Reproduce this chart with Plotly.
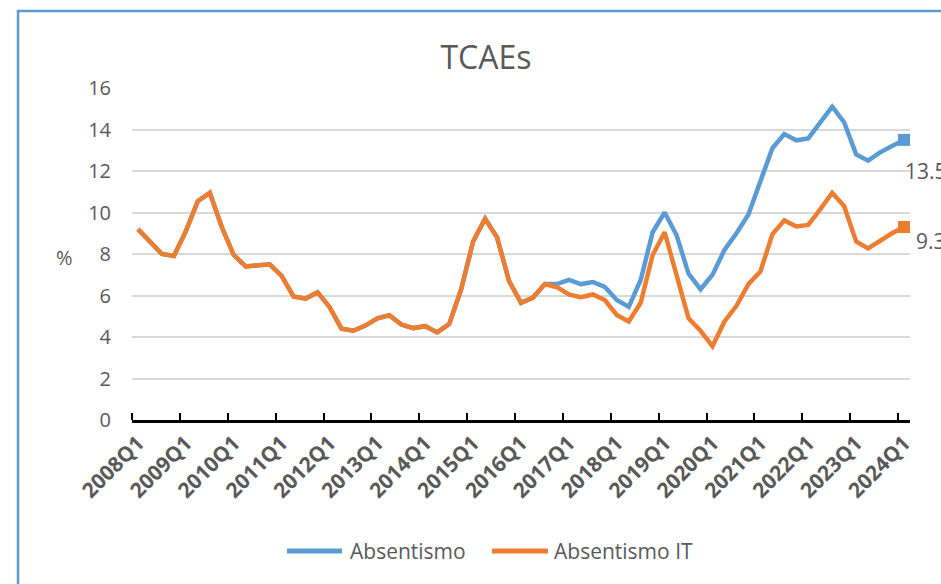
import plotly.graph_objects as go

# quarterly series 2008Q1 .. 2024Q1 (65 quarters)
quarters = [f"{y}Q{q}" for y in range(2008, 2025) for q in range(1, 5)][:65]

absentismo = [
    9.2, 8.6, 8.0, 7.9, 9.1, 10.55, 10.95, 9.3,
    7.95, 7.4, 7.45, 7.5, 6.95, 5.95, 5.85, 6.15,
    5.45, 4.4, 4.3, 4.55, 4.9, 5.05, 4.6, 4.43,
    4.52, 4.22, 4.62, 6.3, 8.6, 9.7, 8.8, 6.7,
    5.65, 5.9, 6.55, 6.55, 6.75, 6.55, 6.65, 6.42,
    5.78, 5.45, 6.75, 9.05, 10.0, 8.9, 7.05, 6.3,
    7.0, 8.2, 9.0, 9.9, 11.5, 13.1, 13.78, 13.48,
    13.57, 14.35, 15.1, 14.35, 12.8, 12.5, 12.9, 13.2,
    13.5,
]

absentismo_it = [
    9.2, 8.6, 8.0, 7.9, 9.1, 10.55, 10.95, 9.3,
    7.95, 7.4, 7.45, 7.5, 6.95, 5.95, 5.85, 6.15,
    5.45, 4.4, 4.3, 4.55, 4.9, 5.05, 4.6, 4.43,
    4.52, 4.22, 4.62, 6.3, 8.6, 9.7, 8.8, 6.7,
    5.65, 5.9, 6.55, 6.4, 6.05, 5.92, 6.05, 5.78,
    5.06, 4.75, 5.65, 7.95, 9.05, 6.9, 4.9, 4.3,
    3.55, 4.75, 5.5, 6.55, 7.15, 8.95, 9.62, 9.33,
    9.4, 10.15, 10.95, 10.3, 8.6, 8.27, 8.65, 9.0,
    9.3,
]

tick_labels = [
    "2008Q1", "2009Q1", "2010Q1", "2011Q1", "2012Q1", "2013Q1",
    "2014Q1", "2015Q1", "2016Q1", "2017Q1", "2018Q1", "2019Q1",
    "2020Q1", "2021Q1", "2022Q1", "2023Q1", "2024Q1",
]

BLUE = "#5B9BD5"
ORANGE = "#ED7D31"
GREY = "#595959"
FONT = "Open Sans"

x_idx = list(range(len(quarters)))
last = len(quarters) - 1

series = [("Absentismo", absentismo, BLUE), ("Absentismo IT", absentismo_it, ORANGE)]

fig = go.Figure()

for name, vals, color in series:
    fig.add_trace(go.Scatter(
        x=x_idx, y=vals, name=name, mode="lines",
        line=dict(color=color, width=4.5),
        customdata=quarters,
        hovertemplate="%{customdata}: %{y:.1f}<extra>" + name + "</extra>",
        showlegend=False,
    ))
    # square marker on the last point only
    fig.add_trace(go.Scatter(
        x=[x_idx[last]], y=[vals[last]], mode="markers",
        marker=dict(symbol="square", size=12, color=color),
        showlegend=False, hoverinfo="skip",
    ))

# end-of-series value labels
fig.add_annotation(x=x_idx[last], y=absentismo[last], text=f"{absentismo[last]:.1f}",
                   showarrow=False, xanchor="left", yanchor="middle",
                   xshift=-1, yshift=-31, font=dict(size=21, color=GREY, family=FONT))
fig.add_annotation(x=x_idx[last], y=absentismo_it[last], text=f"{absentismo_it[last]:.1f}",
                   showarrow=False, xanchor="left", yanchor="middle",
                   xshift=10, yshift=-14, font=dict(size=21, color=GREY, family=FONT))

# "%" axis label, horizontal
fig.add_annotation(x=-0.087, y=0.488, xref="paper", yref="paper", text="%",
                   showarrow=False, xanchor="center", yanchor="middle",
                   font=dict(size=20, color=GREY, family=FONT))

# legend drawn below the plot (Excel-style long line samples)
legend_pos = [(0.1992, 0.2699, 0.2776), (0.4627, 0.5347, 0.5398)]
for (name, _, color), (x0, x1, xt) in zip(series, legend_pos):
    fig.add_shape(type="line", xref="paper", yref="paper",
                  x0=x0, x1=x1, y0=-0.3946, y1=-0.3946,
                  line=dict(color=color, width=5))
    fig.add_annotation(x=xt, y=-0.3946, xref="paper", yref="paper", text=name,
                       showarrow=False, xanchor="left", yanchor="middle",
                       font=dict(size=21, color=GREY, family=FONT))

# chart frame border (runs off the right / bottom edge like the source)
fig.add_shape(type="rect", xref="paper", yref="paper",
              x0=-0.1465, x1=1.08, y0=-0.6, y1=1.232,
              line=dict(color=BLUE, width=2.5), layer="below")

fig.update_layout(
    width=941, height=584,
    margin=dict(l=132, r=31, t=88, b=164),
    paper_bgcolor="white", plot_bgcolor="white",
    font=dict(family=FONT, color=GREY),
    title=dict(text="TCAEs", x=486 / 941, xref="container", y=1 - 58 / 584,
               yref="container", xanchor="center", yanchor="middle",
               font=dict(size=32, color=GREY, family=FONT)),
    showlegend=False,
)

fig.update_xaxes(
    range=[-0.5, len(quarters) - 0.5],
    tickmode="array", tickvals=x_idx[::4], ticktext=tick_labels,
    tickangle=-45, ticks="",
    tickfont=dict(size=21, color=GREY, family=FONT, weight="bold"),
    showgrid=False, zeroline=False,
    showline=True, linecolor="black", linewidth=2.5,
    minor=dict(tickmode="linear", tick0=-0.5, dtick=4, ticks="inside",
               ticklen=7, tickwidth=2, tickcolor="black", showgrid=False),
)

fig.update_yaxes(
    range=[0, 16], dtick=2,
    showgrid=True, gridcolor="#D9D9D9", gridwidth=1.5,
    zeroline=False, showline=False, ticks="",
    ticklabelstandoff=20,
    tickfont=dict(size=20, color=GREY, family=FONT),
)

# drop the default 8px page margin so the figure fills the window exactly
fig.write_html("out.html",
               config={"displayModeBar": False},
               post_script="document.body.style.margin='0';"
                           "document.body.style.overflow='hidden';")
